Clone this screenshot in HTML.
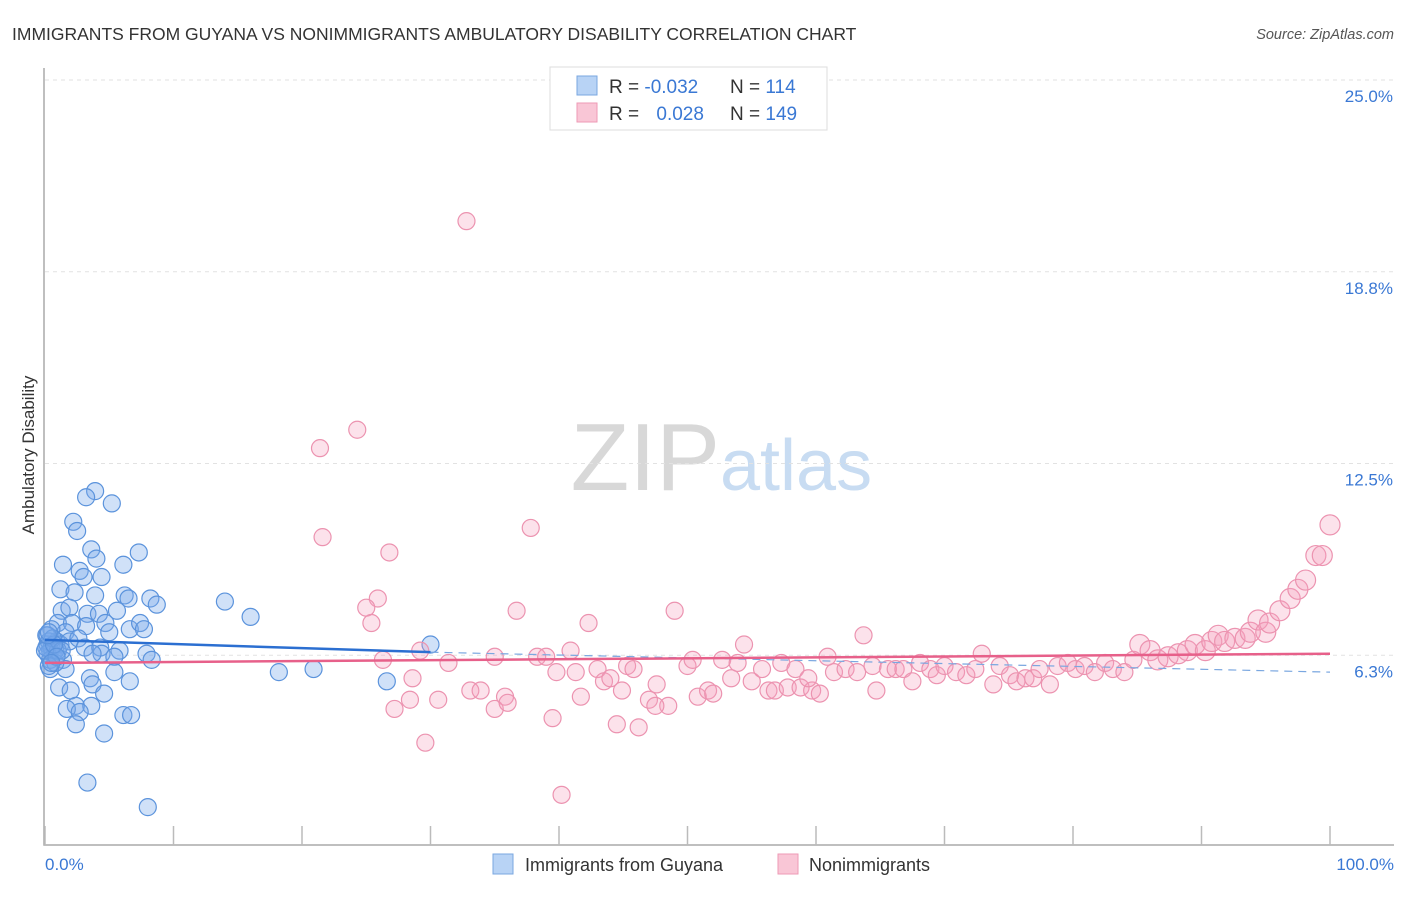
<!DOCTYPE html>
<html><head><meta charset="utf-8"><style>
body{margin:0;background:#fff;font-family:"Liberation Sans",sans-serif;}
svg text{font-family:"Liberation Sans",sans-serif;}
</style></head><body>
<svg width="1406" height="892">
<text x="12" y="40" font-size="17.5" fill="#333">IMMIGRANTS FROM GUYANA VS NONIMMIGRANTS AMBULATORY DISABILITY CORRELATION CHART</text>
<text x="1394" y="39" font-size="14.5" fill="#555" font-style="italic" text-anchor="end">Source: ZipAtlas.com</text>
<text x="720" y="490" font-size="96" fill="#d8d8d8" text-anchor="end" font-family="Liberation Serif">ZIP</text>
<text x="720" y="490" font-size="72" fill="#c8dcf2">atlas</text>
<g id="grid"></g>
<g id="axes"></g>
<g id="pts"></g>
<g id="trend"></g>
<text transform="translate(34,455) rotate(-90)" font-size="17" fill="#333" text-anchor="middle">Ambulatory Disability</text>
<text x="45" y="870" font-size="17" fill="#3a78d4">0.0%</text>
<text x="1394" y="870" font-size="17" fill="#3a78d4" text-anchor="end">100.0%</text>
<g>
<rect x="550" y="67" width="277" height="63" fill="#fff" stroke="#ddd"/>
<rect x="577" y="76" width="20" height="19" fill="#b8d3f5" stroke="#7aa7e0"/>
<rect x="577" y="103" width="20" height="19" fill="#f9c6d6" stroke="#ee9ab5"/>
<text x="609" y="93" font-size="19" fill="#333">R = <tspan fill="#3a78d4">-0.032</tspan></text>
<text x="730" y="93" font-size="19" fill="#333">N = <tspan fill="#3a78d4"> 114</tspan></text>
<text x="609" y="120" font-size="19" fill="#333">R = <tspan fill="#3a78d4" dx="12">0.028</tspan></text>
<text x="730" y="120" font-size="19" fill="#333">N = <tspan fill="#3a78d4">149</tspan></text>
</g>
<g>
<rect x="493" y="854" width="20" height="20" fill="#b8d3f5" stroke="#7aa7e0"/>
<text x="525" y="871" font-size="18" fill="#333">Immigrants from Guyana</text>
<rect x="778" y="854" width="20" height="20" fill="#f9c6d6" stroke="#ee9ab5"/>
<text x="809" y="871" font-size="18" fill="#333">Nonimmigrants</text>
</g>
</svg>
<script>
const yTicks=[6.25,12.5,18.75,25];
const yTickLabels=["6.3%","12.5%","18.8%","25.0%"];
const xTicks=[0,10,20,30,40,50,60,70,80,90,100];
const blueX=[3.9,3.2,5.2,2.2,2.5,3.6,7.3,1.4,4.0,6.1,2.7,3.0,4.4,1.2,2.3,3.9,6.2,6.5,8.2,8.7,14.0,16.0,1.3,1.9,3.3,4.2,5.6,1.0,2.1,3.2,4.7,6.6,7.4,7.7,5.0,1.6,0.5,0.9,1.2,0.2,0.4,0.6,1.9,2.6,3.1,4.3,5.8,4.4,3.7,5.4,1.4,7.9,8.3,1.6,0.4,5.4,18.2,20.9,30.0,26.6,3.5,3.7,1.1,2.0,4.6,6.6,2.4,3.6,1.7,2.7,6.1,6.7,2.4,4.6,3.3,8.0,0.1,0.3,0.5,0.8,0.2,0.4,0.8,0.1,1.0,0.3,0.6,1.3,0.0,0.7,0.2,0.9,0.5,0.3];
const blueY=[11.6,11.4,11.2,10.6,10.3,9.7,9.6,9.2,9.4,9.2,9.0,8.8,8.8,8.4,8.3,8.2,8.2,8.1,8.1,7.9,8.0,7.5,7.7,7.8,7.6,7.6,7.7,7.3,7.3,7.2,7.3,7.1,7.3,7.1,7.0,7.0,7.1,6.7,6.6,6.6,6.4,6.3,6.7,6.8,6.5,6.5,6.4,6.3,6.3,6.2,6.1,6.3,6.1,5.8,5.8,5.7,5.7,5.8,6.6,5.4,5.5,5.3,5.2,5.1,5.0,5.4,4.6,4.6,4.5,4.4,4.3,4.3,4.0,3.7,2.1,1.3,6.9,6.7,6.5,6.4,6.3,6.1,6.0,6.5,6.4,5.9,6.8,6.4,6.4,6.6,6.9,6.2,6.0,7.0];
const pinkX=[32.8,24.3,21.4,37.8,21.6,26.8,25.9,25.0,25.4,36.7,49.0,42.3,29.2,26.3,31.4,28.6,27.2,28.4,30.6,33.1,33.9,35.8,35.0,36.0,29.6,39.5,40.2,44.5,46.2,41.7,38.3,39.0,40.9,35.0,43.0,43.5,44.0,45.3,45.8,44.9,47.6,47.0,48.5,47.5,39.8,41.3,50.0,50.4,50.8,51.6,52.0,52.7,53.4,53.9,54.4,55.0,55.8,56.3,56.8,57.3,57.8,58.4,58.8,59.7,60.3,59.4,60.9,61.4,62.3,63.2,63.7,64.4,64.7,65.6,66.2,66.8,67.5,68.1,68.9,69.4,70.0,70.9,71.7,72.4,72.9,73.8,74.3,75.1,75.6,76.3,76.9,77.4,78.2,78.8,79.6,80.2,80.9,81.7,82.5,83.1,84.0,84.7,85.2,86.0,86.6,87.4,88.2,88.9,89.5,90.3,90.8,91.3,91.8,92.6,93.4,93.8,94.4,95.0,95.3,96.1,96.9,97.5,98.1,98.9,99.4,100];
const pinkY=[20.4,13.6,13.0,10.4,10.1,9.6,8.1,7.8,7.3,7.7,7.7,7.3,6.4,6.1,6.0,5.5,4.5,4.8,4.8,5.1,5.1,4.9,4.5,4.7,3.4,4.2,1.7,4.0,3.9,4.9,6.2,6.2,6.4,6.2,5.8,5.4,5.5,5.9,5.8,5.1,5.3,4.8,4.6,4.6,5.7,5.7,5.9,6.1,4.9,5.1,5.0,6.1,5.5,6.0,6.6,5.4,5.8,5.1,5.1,6.0,5.2,5.8,5.2,5.1,5.0,5.5,6.2,5.7,5.8,5.7,6.9,5.9,5.1,5.8,5.8,5.8,5.4,6.0,5.8,5.6,5.9,5.7,5.6,5.8,6.3,5.3,5.9,5.6,5.4,5.5,5.5,5.8,5.3,5.9,6.0,5.8,5.9,5.7,6.0,5.8,5.7,6.1,6.6,6.4,6.1,6.2,6.3,6.4,6.6,6.4,6.7,6.9,6.7,6.8,6.8,7.0,7.4,7.0,7.3,7.7,8.1,8.4,8.7,9.5,9.5,10.5];
const blueTrend=[[0,6.75],[30,6.35],[100,5.7]];
const pinkTrend=[[0,6.0],[100,6.3]];
const X=v=>45+v*12.85, Y=v=>847-v*30.68;
const NS="http://www.w3.org/2000/svg";
function mk(p,t,a){const e=document.createElementNS(NS,t);for(const k in a)e.setAttribute(k,a[k]);document.getElementById(p).appendChild(e);return e;}
yTicks.forEach((t,i)=>{
 const l=mk('grid','line',{x1:45,x2:1394,y1:Y(t),y2:Y(t),stroke:'#e2e2e2','stroke-dasharray':'4,4'});
 
 
 const tx=mk('grid','text',{x:1393,y:Y(t)+22,'font-size':17,fill:'#3a78d4','text-anchor':'end'});
 tx.textContent=yTickLabels[i];
 
 
});
const ax=mk('axes','path',{d:'M44,68V845H1394',fill:'none',stroke:'#aaa','stroke-width':1.5});


xTicks.forEach(t=>{const l=mk('axes','line',{x1:X(t),x2:X(t),y1:826,y2:845,stroke:'#bbb','stroke-width':1.5});
 
 });
blueX.forEach((x,i)=>{const c=mk('pts','circle',{cx:X(x),cy:Y(blueY[i]),r:8.5,fill:'rgba(120,170,235,0.35)',stroke:'#5b93dc','stroke-width':1.2});
 
 });
pinkX.forEach((x,i)=>{const c=mk('pts','circle',{cx:X(x),cy:Y(pinkY[i]),r:x>85?10:8.5,fill:'rgba(245,160,190,0.3)',stroke:'#ec93b0','stroke-width':1.2});
 
 });
const b1=mk('trend','line',{x1:X(blueTrend[0][0]),y1:Y(blueTrend[0][1]),x2:X(blueTrend[1][0]),y2:Y(blueTrend[1][1]),stroke:'#2b6fd1','stroke-width':2.5});


const b2=mk('trend','line',{x1:X(blueTrend[1][0]),y1:Y(blueTrend[1][1]),x2:X(blueTrend[2][0]),y2:Y(blueTrend[2][1]),stroke:'#7aa7e0','stroke-width':1.2,'stroke-dasharray':'8,6'});


const p1=mk('trend','line',{x1:X(pinkTrend[0][0]),y1:Y(pinkTrend[0][1]),x2:X(pinkTrend[1][0]),y2:Y(pinkTrend[1][1]),stroke:'#e7608a','stroke-width':2.5});


</script>
</body></html>
